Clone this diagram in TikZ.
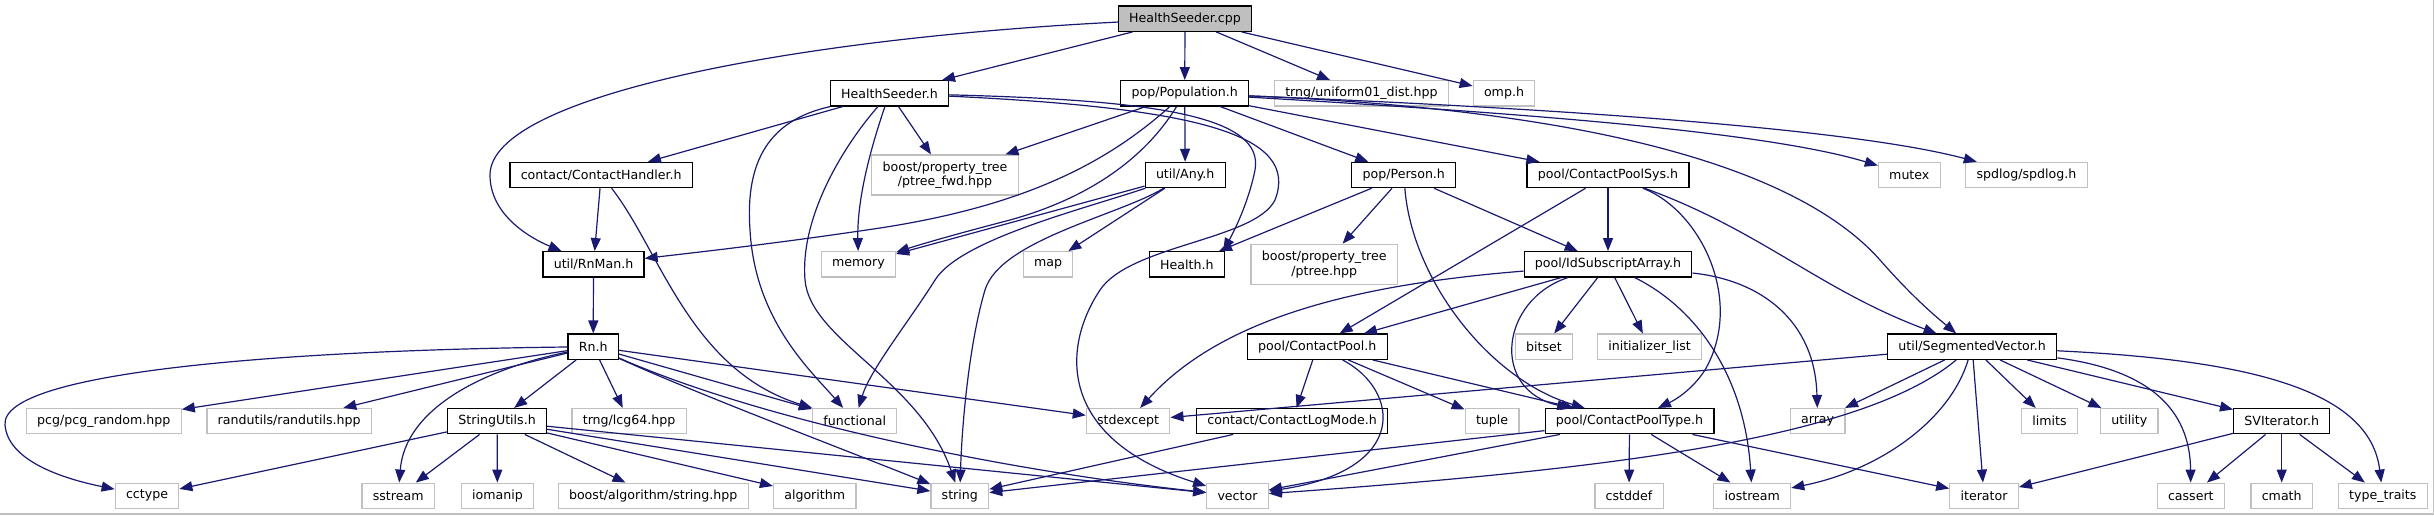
\documentclass[tikz,border=0pt]{standalone}
\usepackage{fontspec}
\setmainfont{DejaVu Sans}
\usetikzlibrary{arrows.meta}

\definecolor{edgeblue}{HTML}{191970}
\definecolor{extgray}{HTML}{C0C0C0}
\definecolor{rootgray}{HTML}{BFBFBF}

\begin{document}
\begin{tikzpicture}[x=0.5pt, y=-0.5pt,
    hdr/.style={draw=black, line width=0.6pt, fill=white, font=\fontsize{6.3pt}{7.3pt}\selectfont,
        inner xsep=5.4pt, inner ysep=0pt, minimum height=12.65pt},
    sys/.style={hdr, draw=extgray},
    root/.style={hdr, fill=rootgray},
    two/.style={align=center, minimum height=20pt},
    dep/.style={draw=edgeblue, line width=0.6pt, -{Triangle[length=6.5pt, width=5pt]}}]

    \useasboundingbox (0,0) rectangle (2434,515);
    \draw[extgray, line width=0.6pt] (0,514) -- (2433.4,514) -- (2433.4,0);

    % Root file
    \node[root] (cpp) at (1185,18.7) {HealthSeeder.cpp};

    % Direct includes
    \node[hdr] (hs) at (889.5,93.3) {HealthSeeder.h};
    \node[hdr] (pop) at (1184.7,93.3) {pop/Population.h};
    \node[sys] (unif) at (1361.4,93.3) {trng/uniform01\_dist.hpp};
    \node[sys] (omp) at (1504,93.3) {omp.h};

    % Second level
    \node[hdr] (chand) at (601.2,175) {contact/ContactHandler.h};
    \node[sys, two] (ptfwd) at (945,175) {boost/property\_tree\\/ptree\_fwd.hpp};
    \node[hdr] (any) at (1185.2,175) {util/Any.h};
    \node[hdr] (person) at (1403.8,175) {pop/Person.h};
    \node[hdr] (cpsys) at (1608,175) {pool/ContactPoolSys.h};
    \node[sys] (mutex) at (1909.3,175) {mutex};
    \node[sys] (spdlog) at (2026.5,175) {spdlog/spdlog.h};

    % Third level
    \node[hdr] (rnman) at (593.5,264.3) {util/RnMan.h};
    \node[sys] (memory) at (858.4,264.3) {memory};
    \node[sys] (map) at (1048,264.3) {map};
    \node[hdr] (health) at (1186.8,264.3) {Health.h};
    \node[sys, two] (ptree) at (1324.2,264.3) {boost/property\_tree\\/ptree.hpp};
    \node[hdr] (idsub) at (1608,264.3) {pool/IdSubscriptArray.h};

    % Fourth level
    \node[hdr] (rn) at (593.2,346.7) {Rn.h};
    \node[hdr] (cpool) at (1317.2,346.7) {pool/ContactPool.h};
    \node[sys] (bitset) at (1543.9,346.7) {bitset};
    \node[sys] (initl) at (1649.5,346.7) {initializer\_list};
    \node[hdr] (segvec) at (1972.1,346.7) {util/SegmentedVector.h};

    % Fifth level
    \node[sys] (pcg) at (103.8,421.2) {pcg/pcg\_random.hpp};
    \node[sys] (randu) at (289.2,421.2) {randutils/randutils.hpp};
    \node[hdr] (strutil) at (497.1,421.2) {StringUtils.h};
    \node[sys] (lcg) at (629.1,421.2) {trng/lcg64.hpp};
    \node[sys] (functional) at (854.7,421.2) {functional};
    \node[sys] (stdexc) at (1128.1,421.2) {stdexcept};
    \node[hdr] (clog) at (1292.1,421.2) {contact/ContactLogMode.h};
    \node[sys] (tuple) at (1492.1,421.2) {tuple};
    \node[hdr] (cptype) at (1629.5,421.2) {pool/ContactPoolType.h};
    \node[sys] (array) at (1817.6,421.2) {array};
    \node[sys] (limits) at (2049.5,421.2) {limits};
    \node[sys] (utility) at (2129.3,421.2) {utility};
    \node[hdr] (sviter) at (2281.7,421.2) {SVIterator.h};

    % Bottom row: standard headers
    \foreach \n/\x/\t in {cctype/147/cctype, sstream/398.2/sstream, iomanip/497.4/iomanip,
        bstring/653.2/{boost/algorithm/string.hpp}, algorithm/814.7/algorithm, string/959.8/string,
        vector/1237.5/vector, cstddef/1629/cstddef, iostream/1752.2/iostream, iterator/1984/iterator,
        cassert/2190.8/cassert, cmath/2281.7/cmath, typetr/2382.8/type\_traits}
        \node[sys] (\n) at (\x,495.8) {\t};

    % Straight includes
    \foreach \a/\b in {cpp/hs, cpp/pop, cpp/unif, cpp/omp,
        hs/chand, hs/ptfwd, pop/ptfwd, pop/any, pop/person, pop/cpsys,
        chand/rnman, any/memory, any/map,
        person/health, person/ptree, person/idsub,
        cpsys/idsub, cpsys/cpool, rnman/rn,
        idsub/cpool, idsub/bitset, idsub/initl,
        rn/pcg, rn/randu, rn/strutil, rn/lcg, rn/functional, rn/stdexc,
        cpool/clog, cpool/tuple, cpool/cptype,
        segvec/stdexc, segvec/array, segvec/limits, segvec/utility, segvec/sviter, segvec/iterator,
        strutil/cctype, strutil/sstream, strutil/iomanip, strutil/bstring, strutil/algorithm,
        strutil/string, strutil/vector,
        clog/string, cptype/string, cptype/vector, cptype/cstddef, cptype/iostream, cptype/iterator,
        sviter/iterator, sviter/cassert, sviter/cmath, sviter/typetr}
        \draw[dep] (\a) -- (\b);

    % HealthSeeder.cpp -> util/RnMan.h (long bow on the left)
    \draw[dep] (cpp) .. controls (800,38) and (490,95) .. (490,175) .. controls (490,215) and (530,238) .. (rnman);

    % HealthSeeder.h curves
    \draw[dep] (hs) .. controls (770,120) and (745,160) .. (750,230) .. controls (755,320) and (810,370) .. (functional);
    \draw[dep] (hs) .. controls (840,150) and (800,220) .. (805,280) .. controls (810,340) and (920,380) .. (string);
    \draw[dep] (hs) .. controls (870,150) and (857,200) .. (memory);
    \draw[dep] (hs) .. controls (1150,100) and (1265,115) .. (1255,170) .. controls (1248,205) and (1232,235) .. (health.20);
    \draw[dep] (hs) .. controls (1200,108) and (1300,135) .. (1275,200) .. controls (1255,240) and (1130,245) .. (1100,290)
        .. controls (1060,350) and (1060,440) .. (vector);

    % pop/Population.h curves
    \draw[dep] (pop) .. controls (1110,160) and (1030,205) .. (880,228) .. controls (780,243) and (700,252) .. (rnman);
    \draw[dep] (pop) .. controls (1150,150) and (1100,195) .. (1010,220) .. controls (960,233) and (925,243) .. (memory);
    \draw[dep] (pop) .. controls (1600,110) and (1800,170) .. (1880,260) .. controls (1915,300) and (1940,320) .. (segvec);
    \draw[dep] (pop) .. controls (1500,112) and (1760,130) .. (mutex);
    \draw[dep] (pop) .. controls (1550,108) and (1850,128) .. (spdlog);

    % util/Any.h and contact/ContactHandler.h
    \draw[dep] (any) .. controls (1080,210) and (960,240) .. (935,280) .. controls (910,320) and (870,370) .. (functional);
    \draw[dep] (any) .. controls (1120,215) and (1000,240) .. (985,290) .. controls (970,340) and (962,420) .. (string);
    \draw[dep] (chand) .. controls (660,250) and (690,370) .. (functional);

    % pool headers
    \draw[dep] (person) .. controls (1412,280) and (1490,380) .. (cptype);
    \draw[dep] (cpsys) .. controls (1700,210) and (1745,300) .. (1705,370) .. controls (1692,390) and (1675,400) .. (cptype);
    \draw[dep] (cpsys) .. controls (1760,230) and (1820,290) .. (segvec);
    \draw[dep] (idsub) .. controls (1350,285) and (1220,320) .. (stdexc);
    \draw[dep] (idsub) .. controls (1500,300) and (1490,390) .. (cptype);
    \draw[dep] (idsub) .. controls (1700,310) and (1745,380) .. (iostream);
    \draw[dep] (idsub) .. controls (1760,280) and (1815,320) .. (array);
    \draw[dep] (cpool) .. controls (1400,390) and (1410,470) .. (vector);

    % util/SegmentedVector.h curves
    \draw[dep] (segvec) .. controls (1860,440) and (1600,470) .. (vector);
    \draw[dep] (segvec) .. controls (1950,420) and (1880,470) .. (iostream);
    \draw[dep] (segvec) .. controls (2150,370) and (2190,410) .. (cassert);
    \draw[dep] (segvec) .. controls (2250,360) and (2370,390) .. (typetr);

    % Rn.h curves
    \draw[dep] (rn) .. controls (300,350) and (0,370) .. (5,425) .. controls (8,460) and (60,478) .. (cctype);
    \draw[dep] (rn) .. controls (480,370) and (405,410) .. (sstream);
    \draw[dep] (rn) .. controls (700,395) and (820,440) .. (string);
    \draw[dep] (rn) .. controls (760,420) and (1000,470) .. (vector);

\end{tikzpicture}
\end{document}
